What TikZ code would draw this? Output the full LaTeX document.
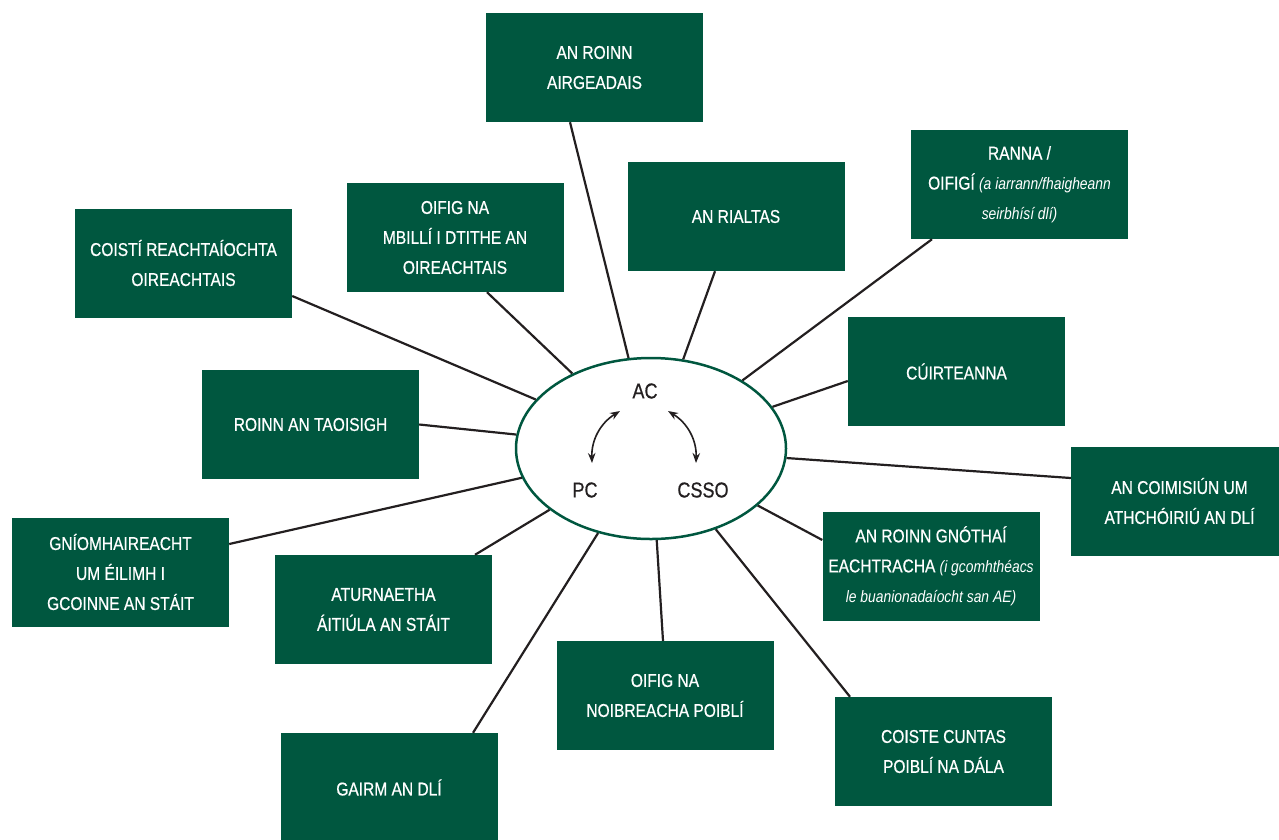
\documentclass[tikz,border=0pt]{standalone}
\usepackage{fontspec}
\setmainfont{Liberation Sans}[FakeStretch=0.84, UprightFeatures={FakeBold=0.6}]
\usetikzlibrary{shapes.geometric,arrows.meta}
\definecolor{boxgreen}{RGB}{0,87,63}
\definecolor{ink}{RGB}{35,31,32}
\newcommand{\boxnote}[1]{{\itshape\fontsize{16.5}{30}\selectfont #1}}

\begin{document}
\begin{tikzpicture}[x=1pt, y=-1pt,
        box/.style={fill=boxgreen, text=white, minimum width=217pt, minimum height=109pt,
            inner sep=0pt, align=center, font=\fontsize{18.5}{30}\selectfont},
        link/.style={draw=ink, line width=2.2pt},
        core/.style={text=ink, font=\fontsize{21.5}{25}\selectfont},
        duo/.style={draw=ink, line width=1.6pt, {Stealth[length=10pt,width=7.5pt]}-{Stealth[length=10pt,width=7.5pt]}}]
        \useasboundingbox (0, 0) rectangle (1279, 839);
        \clip (0, 0) rectangle (1279, 839);

        \node[box] (airgeadais) at (594.5, 67.5) {AN ROINN\\AIRGEADAIS};
        \node[box] (ranna) at (1019.5, 184.5) {RANNA /\\OIFIGÍ \boxnote{(a iarrann/fhaigheann}\\\boxnote{seirbhísí dlí)}};
        \node[box] (rialtas) at (736, 216.5) {AN RIALTAS};
        \node[box] (billi) at (455, 237.5) {OIFIG NA\\MBILLÍ I DTITHE AN\\OIREACHTAIS};
        \node[box] (coisti) at (183.5, 263) {COISTÍ REACHTAÍOCHTA\\OIREACHTAIS};
        \node[box] (cuirteanna) at (956.5, 371.5) {CÚIRTEANNA};
        \node[box] (taoisigh) at (310.5, 424.5) {ROINN AN TAOISIGH};
        \node[box] (coimisiun) at (1179.5, 501) {AN COIMISIÚN UM\\ATHCHÓIRIÚ AN DLÍ};
        \node[box] (gnothai) at (931, 566) {AN ROINN GNÓTHAÍ\\EACHTRACHA \boxnote{(i gcomhthéacs}\\\boxnote{le buanionadaíocht san AE)}};
        \node[box] (eilimh) at (120.5, 572) {GNÍOMHAIREACHT\\UM ÉILIMH I\\GCOINNE AN STÁIT};
        \node[box] (aturnaetha) at (383.5, 609.5) {ATURNAETHA\\ÁITIÚLA AN STÁIT};
        \node[box] (oibreacha) at (665, 695.5) {OIFIG NA\\NOIBREACHA POIBLÍ};
        \node[box] (cuntas) at (943.5, 751.5) {COISTE CUNTAS\\POIBLÍ NA DÁLA};
        \node[box] (gairm) at (389, 787.5) {GAIRM AN DLÍ};

        \node[draw=boxgreen, line width=2.5pt, ellipse, fill=white,
            minimum width=270pt, minimum height=181pt] (ell) at (651, 448.5) {};
        \node[core] (ac) at (645, 391) {AC};
        \node[core] (pc) at (585, 490) {PC};
        \node[core] (csso) at (703, 490) {CSSO};

        \coordinate (acleft) at (620, 411);
        \coordinate (pctip) at (592, 463);
        \coordinate (acright) at (668, 411);
        \coordinate (cssotip) at (696, 463);
        \draw[duo] (pctip) to[bend left=30] (acleft);
        \draw[duo] (cssotip) to[bend right=30] (acright);

        \draw[link] ([xshift=-24.5pt]airgeadais.south) -- (ell);
        \draw[link] ([xshift=-21pt]rialtas.south) -- (ell);
        \draw[link] ([xshift=-87.5pt]ranna.south) -- (ell);
        \draw[link] ([yshift=-9.5pt]cuirteanna.west) -- (ell);
        \draw[link] ([yshift=23pt]coimisiun.west) -- (ell);
        \draw[link] ([yshift=26pt]gnothai.west) -- (ell);
        \draw[link] ([xshift=-93.5pt]cuntas.north) -- (ell);
        \draw[link] ([xshift=-2pt]oibreacha.north) -- (ell);
        \draw[link] ([xshift=84pt]gairm.north) -- (ell);
        \draw[link] ([xshift=91.5pt]aturnaetha.north) -- (ell);
        \draw[link] ([yshift=28pt]eilimh.east) -- (ell);
        \draw[link] (taoisigh.east) -- (ell);
        \draw[link] ([yshift=-33pt]coisti.east) -- (ell);
        \draw[link] ([xshift=32pt]billi.south) -- (ell);
    \end{tikzpicture}
\end{document}
